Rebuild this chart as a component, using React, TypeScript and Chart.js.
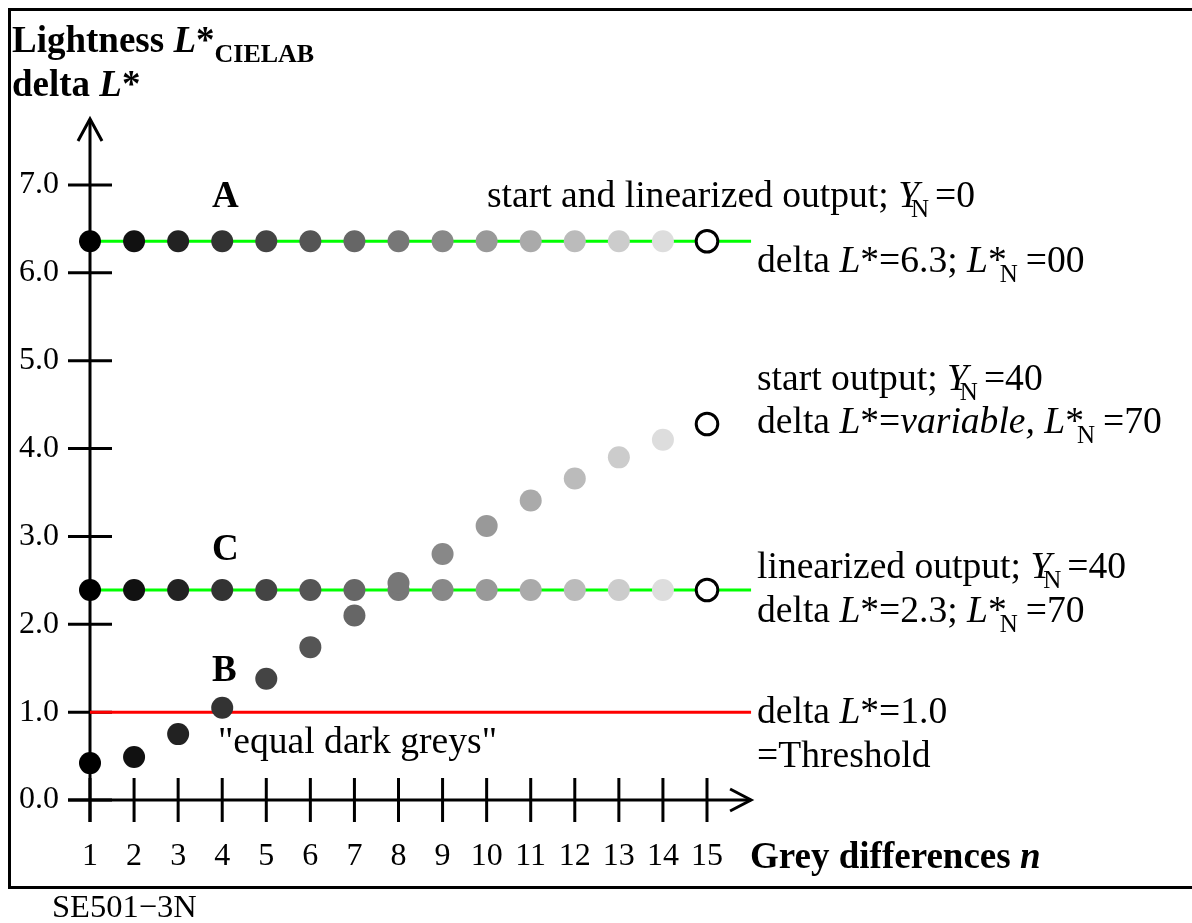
import React, { useEffect, useRef } from "react";
import { Chart, registerables } from "chart.js";

Chart.register(...registerables);

// ---------- data ----------
const N_VALUES = [1, 2, 3, 4, 5, 6, 7, 8, 9, 10, 11, 12, 13, 14, 15];
const X_TICK_LABELS = ["1", "2", "3", "4", "5", "6", "7", "8", "9", "10", "11", "12", "13", "14", "15"];
const Y_TICK_VALUES = [0, 1, 2, 3, 4, 5, 6, 7];
const Y_TICK_LABELS = ["0.0", "1.0", "2.0", "3.0", "4.0", "5.0", "6.0", "7.0"];
const SERIES_A = [6.36, 6.36, 6.36, 6.36, 6.36, 6.36, 6.36, 6.36, 6.36, 6.36, 6.36, 6.36, 6.36, 6.36, 6.36];
const SERIES_C = [2.39, 2.39, 2.39, 2.39, 2.39, 2.39, 2.39, 2.39, 2.39, 2.39, 2.39, 2.39, 2.39, 2.39, 2.39];
const SERIES_B = [0.42, 0.49, 0.75, 1.05, 1.38, 1.74, 2.1, 2.47, 2.8, 3.12, 3.41, 3.66, 3.9, 4.1, 4.28];
const LEVEL_A = 6.36;
const LEVEL_C = 2.39;
const THRESHOLD = 1.0;
const LINE_X_RANGE = [1, 16];
const POINT_GREYS = ["#000000", "#111111", "#222222", "#333333", "#444444", "#555555", "#666666", "#777777",
  "#888888", "#999999", "#aaaaaa", "#bbbbbb", "#cccccc", "#dddddd", "#ffffff"];

type Run = { t: string; b?: boolean; i?: boolean; size?: number; dy?: number; dx?: number };

const FONT = '"Liberation Serif", "Times New Roman", serif';
const SUB = 25;

const drawRuns = (ctx: CanvasRenderingContext2D, runs: Run[], x: number, y: number, base: number) => {
  let cx = x;
  for (const r of runs) {
    const size = r.size ?? base;
    ctx.font = `${r.i ? "italic " : ""}${r.b ? "bold " : ""}${size}px ${FONT}`;
    cx += r.dx ?? 0;
    ctx.fillText(r.t, cx, y + (r.dy ?? 0));
    cx += ctx.measureText(r.t).width;
  }
};

const pointStyleFor = (vals: number[]) => ({
  pointRadius: vals.map((_, i) => (i === vals.length - 1 ? 10.8 : 11)),
  pointBackgroundColor: POINT_GREYS,
  pointBorderColor: vals.map((_, i) => (i === vals.length - 1 ? "#000000" : "rgba(0,0,0,0)")),
  pointBorderWidth: vals.map((_, i) => (i === vals.length - 1 ? 3 : 0)),
});

const axesPlugin = {
  id: "customAxes",
  beforeDatasetsDraw(chart: any) {
    const ctx: CanvasRenderingContext2D = chart.ctx;
    const xs = chart.scales.x;
    const ys = chart.scales.y;
    const x0 = xs.getPixelForValue(1);
    const y0 = ys.getPixelForValue(0);
    ctx.save();
    ctx.strokeStyle = "#000";
    ctx.lineWidth = 3;
    ctx.lineCap = "butt";
    // frame
    ctx.strokeRect(9.5, 9.5, 1200, 878);
    // y axis
    ctx.beginPath();
    ctx.moveTo(x0, y0 + 22);
    ctx.lineTo(x0, 119);
    ctx.stroke();
    ctx.beginPath();
    ctx.moveTo(x0 - 12, 141);
    ctx.lineTo(x0, 119);
    ctx.lineTo(x0 + 12, 141);
    ctx.stroke();
    // x axis
    const xEnd = xs.getPixelForValue(16);
    ctx.beginPath();
    ctx.moveTo(x0 - 22, y0);
    ctx.lineTo(xEnd, y0);
    ctx.stroke();
    ctx.beginPath();
    ctx.moveTo(xEnd - 21, y0 - 11);
    ctx.lineTo(xEnd, y0);
    ctx.lineTo(xEnd - 21, y0 + 11);
    ctx.stroke();
    // y ticks
    ctx.fillStyle = "#000";
    ctx.textBaseline = "middle";
    ctx.textAlign = "right";
    ctx.font = `32px ${FONT}`;
    Y_TICK_VALUES.forEach((v, i) => {
      const py = ys.getPixelForValue(v);
      ctx.beginPath();
      ctx.moveTo(x0 - 22, py);
      ctx.lineTo(x0 + 22, py);
      ctx.stroke();
      ctx.fillText(Y_TICK_LABELS[i], 59, py);
    });
    // x ticks
    ctx.textAlign = "center";
    N_VALUES.forEach((n, i) => {
      const px = xs.getPixelForValue(n);
      ctx.beginPath();
      ctx.moveTo(px, y0 - 22);
      ctx.lineTo(px, y0 + 22);
      ctx.stroke();
      ctx.fillText(X_TICK_LABELS[i], px, 857);
    });
    ctx.restore();
  },
  afterDraw(chart: any) {
    const ctx: CanvasRenderingContext2D = chart.ctx;
    ctx.save();
    ctx.fillStyle = "#000";
    ctx.textBaseline = "alphabetic";
    ctx.textAlign = "left";
    const B = 37;
    drawRuns(ctx, [{ t: "Lightness ", b: true }, { t: "L", b: true, i: true }, { t: "*", b: true }, { t: "CIELAB", b: true, size: 26, dy: 10 }], 12, 52, B);
    drawRuns(ctx, [{ t: "delta ", b: true }, { t: "L", b: true, i: true }, { t: "*", b: true }], 12, 96, B);
    drawRuns(ctx, [{ t: "A", b: true }], 212, 207, B);
    drawRuns(ctx, [{ t: "C", b: true }], 212, 560, B);
    drawRuns(ctx, [{ t: "B", b: true }], 212, 681, B);
    drawRuns(ctx, [{ t: "Grey differences ", b: true }, { t: "n", b: true, i: true }], 750, 868, B);

    const R = 37.6;
    drawRuns(ctx, [{ t: "start and linearized output; " }, { t: "Y", i: true }, { t: "N", size: SUB, dy: 10, dx: -8 }, { t: "=0", dx: 6 }], 487, 207, R);
    drawRuns(ctx, [{ t: "delta " }, { t: "L", i: true }, { t: "*=6.3; " }, { t: "L", i: true }, { t: "*" }, { t: "N", size: SUB, dy: 10, dx: -7 }, { t: "=00", dx: 8 }], 757, 272, R);
    drawRuns(ctx, [{ t: "start output; " }, { t: "Y", i: true }, { t: "N", size: SUB, dy: 10, dx: -8 }, { t: "=40", dx: 6 }], 757, 390, R);
    drawRuns(ctx, [{ t: "delta " }, { t: "L", i: true }, { t: "*=" }, { t: "variable,", i: true }, { t: " " }, { t: "L", i: true }, { t: "*" }, { t: "N", size: SUB, dy: 10, dx: -7 }, { t: "=70", dx: 8 }], 757, 433, R);
    drawRuns(ctx, [{ t: "linearized output; " }, { t: "Y", i: true }, { t: "N", size: SUB, dy: 10, dx: -8 }, { t: "=40", dx: 6 }], 757, 578, R);
    drawRuns(ctx, [{ t: "delta " }, { t: "L", i: true }, { t: "*=2.3; " }, { t: "L", i: true }, { t: "*" }, { t: "N", size: SUB, dy: 10, dx: -7 }, { t: "=70", dx: 8 }], 757, 622, R);
    drawRuns(ctx, [{ t: "delta " }, { t: "L", i: true }, { t: "*=1.0" }], 757, 723, R);
    drawRuns(ctx, [{ t: "=Threshold" }], 757, 767, R);
    drawRuns(ctx, [{ t: "\"equal dark greys\"" }], 218, 753, R);
    drawRuns(ctx, [{ t: "SE501\u22123N" }], 52, 917, 32.5);
    ctx.restore();
  },
};

export default function App() {
  const ref = useRef<HTMLCanvasElement | null>(null);
  useEffect(() => {
    if (!ref.current) return;
    const line = (level: number, color: string) => ({
      type: "line" as const,
      data: LINE_X_RANGE.map((x) => ({ x, y: level })),
      borderColor: color,
      borderWidth: 3,
      pointRadius: 0,
      showLine: true,
      fill: false,
      clip: false as any,
      order: 10,
    });
    const pts = (vals: number[], order: number) => ({
      type: "scatter" as const,
      data: N_VALUES.map((n, i) => ({ x: n, y: vals[i] })),
      showLine: false,
      clip: false as any,
      order,
      ...pointStyleFor(vals),
    });
    const chart = new Chart(ref.current, {
      type: "scatter",
      data: {
        datasets: [
          line(LEVEL_A, "#00ff00"),
          line(LEVEL_C, "#00ff00"),
          line(THRESHOLD, "#ff0000"),
          pts(SERIES_C, 2),
          pts(SERIES_B, 1),
          pts(SERIES_A, 3),
        ] as any,
      },
      options: {
        animation: false,
        responsive: false,
        maintainAspectRatio: false,
        devicePixelRatio: 1,
        layout: { padding: { left: 90, right: 485, top: 185, bottom: 123 } },
        plugins: { legend: { display: false }, tooltip: { enabled: false } },
        events: [],
        scales: {
          x: { type: "linear", min: 1, max: 15, display: false },
          y: { type: "linear", min: 0, max: 7, display: false },
        },
      },
      plugins: [axesPlugin],
    });
    return () => chart.destroy();
  }, []);
  return (
    <div style={{ position: "fixed", left: 0, top: 0, width: 1192, height: 923, background: "#fff" }}>
      <canvas ref={ref} width={1192} height={923} style={{ display: "block", width: 1192, height: 923 }} />
    </div>
  );
}
